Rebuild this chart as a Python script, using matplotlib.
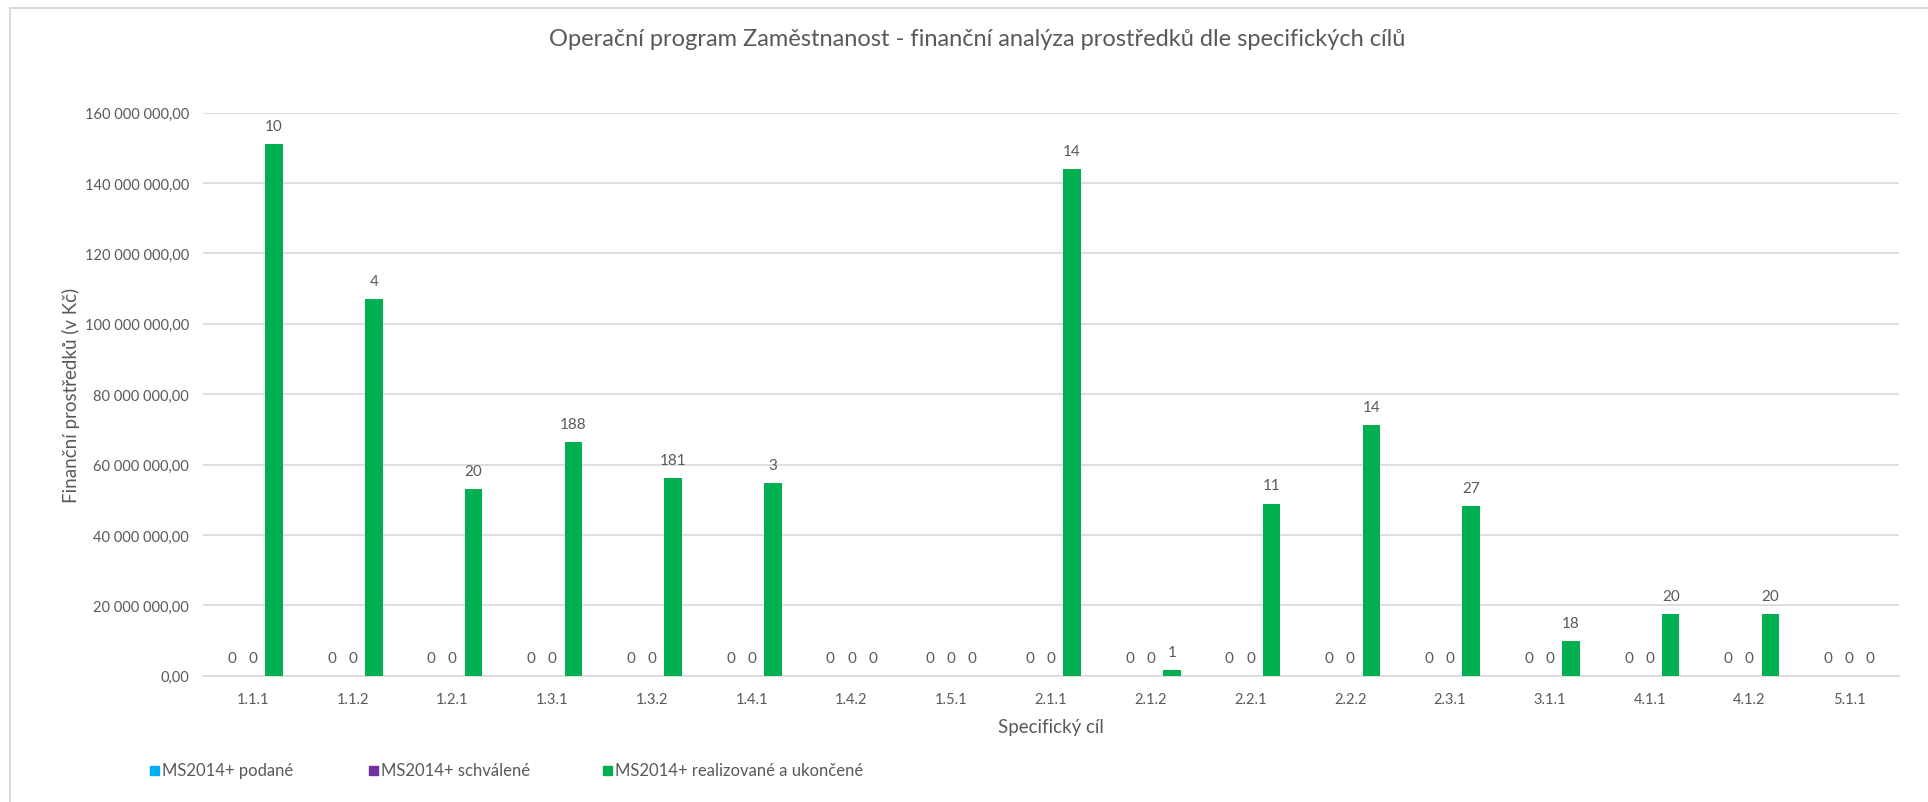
import numpy as np
import matplotlib.pyplot as plt
from matplotlib.patches import Rectangle
from matplotlib.lines import Line2D

plt.rcParams['font.family'] = ['Lato', 'DejaVu Sans']

cile = ['1.1.1', '1.1.2', '1.2.1', '1.3.1', '1.3.2', '1.4.1', '1.4.2', '1.5.1', '2.1.1',
        '2.1.2', '2.2.1', '2.2.2', '2.3.1', '3.1.1', '4.1.1', '4.1.2', '5.1.1']
podane = [0] * 17
schvalene = [0] * 17
realizovane = [151.0e6, 106.9e6, 53.1e6, 66.4e6, 56.2e6, 54.8e6, 0, 0, 143.9e6,
               1.7e6, 48.9e6, 71.3e6, 48.2e6, 9.8e6, 17.5e6, 17.5e6, 0]
# popisky = pocty projektu
pocty_podane = [0] * 17
pocty_schvalene = [0] * 17
pocty_realizovane = [10, 4, 20, 188, 181, 3, 0, 0, 14, 1, 11, 14, 27, 18, 20, 20, 0]

nazvy = ['MS2014+ podané', 'MS2014+ schválené', 'MS2014+ realizované a ukončené']
barvy = ['#00B0F0', '#7030A0', '#00B050']
seda = '#595959'

fig = plt.figure(figsize=(19.28, 8.03), dpi=100)
ax = fig.add_axes([203 / 1928, 1 - 676.7 / 803, 1696 / 1928, (676.7 - 113.5) / 803])

x = np.arange(len(cile))
w = 0.175
d = 0.212
serie = [podane, schvalene, realizovane]
popisky = [pocty_podane, pocty_schvalene, pocty_realizovane]
for i in range(3):
    b = ax.bar(x + (i - 1) * d, serie[i], w, color=barvy[i], zorder=3)
    ax.bar_label(b, labels=[str(v) for v in popisky[i]], padding=8, fontsize=11, color=seda)

ax.set_xlim(-0.5, len(cile) - 0.5)
ax.set_ylim(0, 160e6)
ax.set_yticks(np.arange(0, 160e6 + 1, 20e6))
ax.set_yticklabels([f'{int(v):,}'.replace(',', ' ') + ',00' for v in np.arange(0, 160e6 + 1, 20e6)])
ax.set_xticks(x)
ax.set_xticklabels(cile)
ax.tick_params(length=0, labelsize=10.5, labelcolor=seda)
ax.tick_params(axis='y', pad=10)
ax.tick_params(axis='x', pad=12)
ax.grid(axis='y', color='#d9d9d9', lw=1.2, zorder=0)
for s in ['top', 'right', 'left']:
    ax.spines[s].set_visible(False)
ax.spines['bottom'].set_color('#d9d9d9')
ax.spines['bottom'].set_linewidth(1.2)

ax.set_xlabel('Specifický cíl', fontsize=13.5, color=seda)
ax.xaxis.set_label_coords(0.5, -(719 - 676.7) / (676.7 - 113.5))
ax.set_ylabel('Finanční prostředků (v Kč)', fontsize=13.5, color=seda)
ax.yaxis.set_label_coords(-(203 - 80) / 1696, 0.5)

fig.text(977 / 1928, 1 - 40 / 803, 'Operační program Zaměstnanost - finanční analýza prostředků dle specifických cílů',
         ha='center', va='center', fontsize=17, color=seda)

# legenda
leg_x = [150, 369, 603]
for i in range(3):
    fig.patches.append(Rectangle((leg_x[i] / 1928, 1 - 776 / 803), 9 / 1928, 9 / 803,
                                 transform=fig.transFigure, color=barvy[i]))
    fig.text((leg_x[i] + 12) / 1928, 1 - 771 / 803, nazvy[i], ha='left', va='center',
             fontsize=12, color=seda)

# ramecek grafu
fig.add_artist(Line2D([10 / 1928, 10 / 1928], [0, 1 - 9 / 803], color='#d9d9d9', lw=1.5,
                      transform=fig.transFigure))
fig.add_artist(Line2D([10 / 1928, 1], [1 - 9 / 803, 1 - 9 / 803], color='#d9d9d9', lw=1.5,
                      transform=fig.transFigure))

fig.savefig('out.png', dpi=100)
